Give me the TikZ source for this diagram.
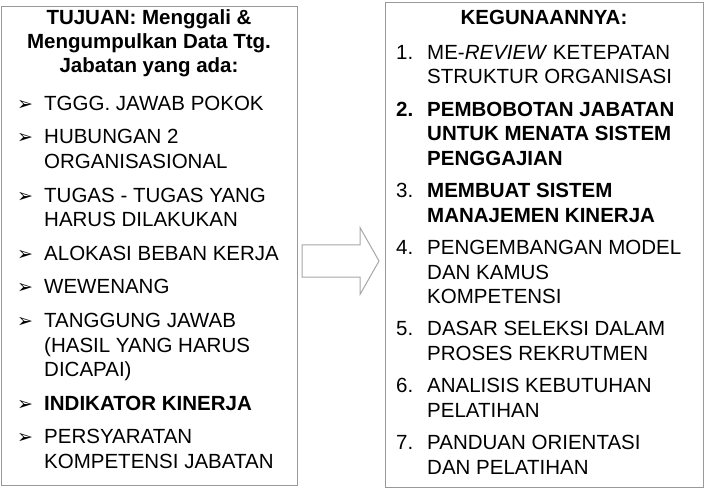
\documentclass[tikz,border=0pt]{standalone}
\usepackage{fontspec}
\setmainfont{Liberation Sans}
\newfontfamily\dejavu{DejaVu Sans}
\usetikzlibrary{positioning}
\tikzset{
  panel/.style={draw=black!40, line width=1pt, inner sep=0pt},
  head/.style={inner sep=0pt, anchor=north, align=center,
    font=\fontsize{20.5}{24}\selectfont\bfseries},
  item/.style={inner sep=0pt, font=\fontsize{20.5}{24.5}\selectfont},
  bigarrow/.style={draw=black!35, line width=1pt, line join=miter},
  node distance=8.75pt,
}
\newcommand{\bul}[1]{\makebox[27pt][l]{\dejavu\fontsize{19}{19}\selectfont ➢}%
  \parbox[t]{250pt}{\raggedright\strut#1\strut}}
\newcommand{\nr}[2]{\makebox[31pt][l]{#1}%
  \parbox[t]{272pt}{\raggedright\strut#2\strut}}

\begin{document}
\begin{tikzpicture}[x=1pt, y=-1pt]
  \useasboundingbox (0,0) rectangle (707,489);
  \node[panel, anchor=north west, minimum width=296pt, minimum height=479pt] (lbox) at (1,6) {};
  \node[panel, anchor=north west, minimum width=318pt, minimum height=485pt] (rbox) at (385,2) {};

  % tujuan
  \node[head] (ltitle) at (149,8) {\strut TUJUAN: Menggali \&\\Mengumpulkan Data Ttg.\\Jabatan yang ada:};
  \node[item, anchor=north west] (l1) at (17,93) {\bul{TGGG. JAWAB POKOK}};
  \node[item, below=of l1] (l2) {\bul{HUBUNGAN 2\\ORGANISASIONAL}};
  \node[item, below=of l2] (l3) {\bul{TUGAS - TUGAS YANG\\HARUS DILAKUKAN}};
  \node[item, below=of l3] (l4) {\bul{ALOKASI BEBAN KERJA}};
  \node[item, below=of l4] (l5) {\bul{WEWENANG}};
  \node[item, below=of l5] (l6) {\bul{TANGGUNG JAWAB\\(HASIL YANG HARUS\\DICAPAI)}};
  \node[item, below=of l6] (l7) {\bul{\bfseries INDIKATOR KINERJA}};
  \node[item, below=of l7] (l8) {\bul{PERSYARATAN\\KOMPETENSI JABATAN}};

  % panah
  \coordinate (arr) at (340.5,261);
  \draw[bigarrow] ([shift={(-38.5,-16)}]arr) -- ([shift={(19.5,-16)}]arr)
    -- ([shift={(19.5,-33.5)}]arr) -- ([shift={(38.5,0)}]arr)
    -- ([shift={(19.5,33.5)}]arr) -- ([shift={(19.5,16)}]arr)
    -- ([shift={(-38.5,16)}]arr) -- cycle;

  % kegunaan
  \begin{scope}[node distance=7.5pt]
  \node[head] (rtitle) at (544,8) {\strut KEGUNAANNYA:};
  \node[item, anchor=north west] (r1) at (396,42) {\nr{1.}{ME-\textit{REVIEW} KETEPATAN\\STRUKTUR ORGANISASI}};
  \node[item, below=of r1] (r2) {\nr{\textbf{2.}}{\bfseries PEMBOBOTAN JABATAN\\UNTUK MENATA SISTEM\\PENGGAJIAN}};
  \node[item, below=of r2] (r3) {\nr{3.}{\bfseries MEMBUAT SISTEM\\MANAJEMEN KINERJA}};
  \node[item, below=of r3] (r4) {\nr{4.}{PENGEMBANGAN MODEL\\DAN KAMUS\\KOMPETENSI}};
  \node[item, below=of r4] (r5) {\nr{5.}{DASAR SELEKSI DALAM\\PROSES REKRUTMEN}};
  \node[item, below=of r5] (r6) {\nr{6.}{ANALISIS KEBUTUHAN\\PELATIHAN}};
  \node[item, below=of r6] (r7) {\nr{7.}{PANDUAN ORIENTASI\\DAN PELATIHAN}};
  \end{scope}
\end{tikzpicture}
\end{document}
